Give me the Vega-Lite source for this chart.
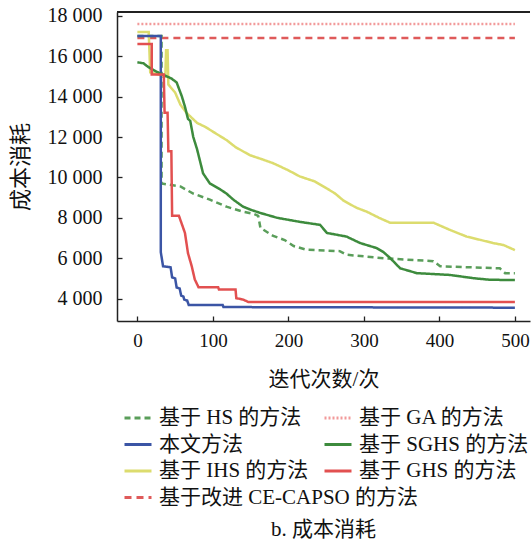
{
  "$schema": "https://vega.github.io/schema/vega-lite/v6.json",
  "autosize": "none",
  "width": 413,
  "height": 309,
  "padding": {"left": 117, "top": 12, "right": 1, "bottom": 223},
  "background": "white",
  "title": {"text": "b. 成本消耗", "orient": "bottom", "offset": 11, "font": "Liberation Serif, Times New Roman, Noto Sans CJK SC", "fontSize": 21, "fontWeight": "normal", "color": "#111"},
  "config": {
    "view": {"stroke": null},
    "axis": {"domainColor": "#222", "domainWidth": 1.5, "tickColor": "#222", "tickWidth": 1.3, "tickSize": -5, "grid": false,
      "labelFont": "Liberation Serif, Times New Roman, serif", "labelFontSize": 19, "labelColor": "#111",
      "titleFont": "Liberation Serif, Times New Roman, Noto Sans CJK SC", "titleFontSize": 21, "titleFontWeight": "normal", "titleColor": "#111"},
    "legend": {"symbolType": "stroke", "symbolSize": 729, "symbolStrokeWidth": 3, "labelFont": "Liberation Serif, Times New Roman, Noto Sans CJK SC", "labelFontSize": 21, "labelColor": "#111", "labelLimit": 400, "rowPadding": 1.5, "labelOffset": 6, "padding": 0, "orient": "none", "title": null}
  },
  "data": {"values": [
    {"s": "基于 GA 的方法", "i": 0, "x": 0, "y": 17600},
    {"s": "基于 GA 的方法", "i": 1, "x": 500, "y": 17600},
    {"s": "基于改进 CE-CAPSO 的方法", "i": 0, "x": 0, "y": 16900},
    {"s": "基于改进 CE-CAPSO 的方法", "i": 1, "x": 500, "y": 16900},
    {"s": "基于 HS 的方法", "i": 0, "x": 0, "y": 17000},
    {"s": "基于 HS 的方法", "i": 1, "x": 32, "y": 17000},
    {"s": "基于 HS 的方法", "i": 2, "x": 32, "y": 9700},
    {"s": "基于 HS 的方法", "i": 3, "x": 40, "y": 9650},
    {"s": "基于 HS 的方法", "i": 4, "x": 57, "y": 9550},
    {"s": "基于 HS 的方法", "i": 5, "x": 74, "y": 9200},
    {"s": "基于 HS 的方法", "i": 6, "x": 96, "y": 8900},
    {"s": "基于 HS 的方法", "i": 7, "x": 118, "y": 8550},
    {"s": "基于 HS 的方法", "i": 8, "x": 140, "y": 8300},
    {"s": "基于 HS 的方法", "i": 9, "x": 154, "y": 8200},
    {"s": "基于 HS 的方法", "i": 10, "x": 160, "y": 8100},
    {"s": "基于 HS 的方法", "i": 11, "x": 163, "y": 7500},
    {"s": "基于 HS 的方法", "i": 12, "x": 180, "y": 7100},
    {"s": "基于 HS 的方法", "i": 13, "x": 195, "y": 6900},
    {"s": "基于 HS 的方法", "i": 14, "x": 207, "y": 6600},
    {"s": "基于 HS 的方法", "i": 15, "x": 224, "y": 6420},
    {"s": "基于 HS 的方法", "i": 16, "x": 268, "y": 6350},
    {"s": "基于 HS 的方法", "i": 17, "x": 277, "y": 6170},
    {"s": "基于 HS 的方法", "i": 18, "x": 326, "y": 6000},
    {"s": "基于 HS 的方法", "i": 19, "x": 392, "y": 5850},
    {"s": "基于 HS 的方法", "i": 20, "x": 401, "y": 5600},
    {"s": "基于 HS 的方法", "i": 21, "x": 480, "y": 5500},
    {"s": "基于 HS 的方法", "i": 22, "x": 487, "y": 5260},
    {"s": "基于 HS 的方法", "i": 23, "x": 500, "y": 5260},
    {"s": "基于 IHS 的方法", "i": 0, "x": 0, "y": 17200},
    {"s": "基于 IHS 的方法", "i": 1, "x": 15, "y": 17200},
    {"s": "基于 IHS 的方法", "i": 2, "x": 17, "y": 15200},
    {"s": "基于 IHS 的方法", "i": 3, "x": 37, "y": 15000},
    {"s": "基于 IHS 的方法", "i": 4, "x": 38, "y": 16300},
    {"s": "基于 IHS 的方法", "i": 5, "x": 40, "y": 16300},
    {"s": "基于 IHS 的方法", "i": 6, "x": 41, "y": 14600},
    {"s": "基于 IHS 的方法", "i": 7, "x": 50, "y": 14200},
    {"s": "基于 IHS 的方法", "i": 8, "x": 57, "y": 13600},
    {"s": "基于 IHS 的方法", "i": 9, "x": 65, "y": 13200},
    {"s": "基于 IHS 的方法", "i": 10, "x": 79, "y": 12700},
    {"s": "基于 IHS 的方法", "i": 11, "x": 90, "y": 12500},
    {"s": "基于 IHS 的方法", "i": 12, "x": 105, "y": 12150},
    {"s": "基于 IHS 的方法", "i": 13, "x": 118, "y": 11850},
    {"s": "基于 IHS 的方法", "i": 14, "x": 130, "y": 11500},
    {"s": "基于 IHS 的方法", "i": 15, "x": 149, "y": 11100},
    {"s": "基于 IHS 的方法", "i": 16, "x": 165, "y": 10900},
    {"s": "基于 IHS 的方法", "i": 17, "x": 180, "y": 10700},
    {"s": "基于 IHS 的方法", "i": 18, "x": 200, "y": 10350},
    {"s": "基于 IHS 的方法", "i": 19, "x": 215, "y": 10050},
    {"s": "基于 IHS 的方法", "i": 20, "x": 235, "y": 9800},
    {"s": "基于 IHS 的方法", "i": 21, "x": 251, "y": 9450},
    {"s": "基于 IHS 的方法", "i": 22, "x": 262, "y": 9200},
    {"s": "基于 IHS 的方法", "i": 23, "x": 273, "y": 8850},
    {"s": "基于 IHS 的方法", "i": 24, "x": 290, "y": 8500},
    {"s": "基于 IHS 的方法", "i": 25, "x": 304, "y": 8300},
    {"s": "基于 IHS 的方法", "i": 26, "x": 320, "y": 8000},
    {"s": "基于 IHS 的方法", "i": 27, "x": 335, "y": 7750},
    {"s": "基于 IHS 的方法", "i": 28, "x": 360, "y": 7750},
    {"s": "基于 IHS 的方法", "i": 29, "x": 392, "y": 7760},
    {"s": "基于 IHS 的方法", "i": 30, "x": 414, "y": 7400},
    {"s": "基于 IHS 的方法", "i": 31, "x": 436, "y": 7070},
    {"s": "基于 IHS 的方法", "i": 32, "x": 455, "y": 6900},
    {"s": "基于 IHS 的方法", "i": 33, "x": 471, "y": 6750},
    {"s": "基于 IHS 的方法", "i": 34, "x": 485, "y": 6650},
    {"s": "基于 IHS 的方法", "i": 35, "x": 500, "y": 6400},
    {"s": "基于 SGHS 的方法", "i": 0, "x": 0, "y": 15700},
    {"s": "基于 SGHS 的方法", "i": 1, "x": 8, "y": 15650},
    {"s": "基于 SGHS 的方法", "i": 2, "x": 14, "y": 15480},
    {"s": "基于 SGHS 的方法", "i": 3, "x": 22, "y": 15300},
    {"s": "基于 SGHS 的方法", "i": 4, "x": 30, "y": 15150},
    {"s": "基于 SGHS 的方法", "i": 5, "x": 39, "y": 15000},
    {"s": "基于 SGHS 的方法", "i": 6, "x": 45, "y": 14900},
    {"s": "基于 SGHS 的方法", "i": 7, "x": 52, "y": 14700},
    {"s": "基于 SGHS 的方法", "i": 8, "x": 56, "y": 14300},
    {"s": "基于 SGHS 的方法", "i": 9, "x": 59, "y": 14000},
    {"s": "基于 SGHS 的方法", "i": 10, "x": 63, "y": 13500},
    {"s": "基于 SGHS 的方法", "i": 11, "x": 67, "y": 12900},
    {"s": "基于 SGHS 的方法", "i": 12, "x": 70, "y": 12800},
    {"s": "基于 SGHS 的方法", "i": 13, "x": 74, "y": 12000},
    {"s": "基于 SGHS 的方法", "i": 14, "x": 79, "y": 11400},
    {"s": "基于 SGHS 的方法", "i": 15, "x": 83, "y": 10800},
    {"s": "基于 SGHS 的方法", "i": 16, "x": 87, "y": 10200},
    {"s": "基于 SGHS 的方法", "i": 17, "x": 96, "y": 9700},
    {"s": "基于 SGHS 的方法", "i": 18, "x": 110, "y": 9400},
    {"s": "基于 SGHS 的方法", "i": 19, "x": 118, "y": 9200},
    {"s": "基于 SGHS 的方法", "i": 20, "x": 127, "y": 8900},
    {"s": "基于 SGHS 的方法", "i": 21, "x": 140, "y": 8550},
    {"s": "基于 SGHS 的方法", "i": 22, "x": 150, "y": 8400},
    {"s": "基于 SGHS 的方法", "i": 23, "x": 162, "y": 8250},
    {"s": "基于 SGHS 的方法", "i": 24, "x": 185, "y": 8000},
    {"s": "基于 SGHS 的方法", "i": 25, "x": 215, "y": 7800},
    {"s": "基于 SGHS 的方法", "i": 26, "x": 242, "y": 7650},
    {"s": "基于 SGHS 的方法", "i": 27, "x": 251, "y": 7250},
    {"s": "基于 SGHS 的方法", "i": 28, "x": 277, "y": 7070},
    {"s": "基于 SGHS 的方法", "i": 29, "x": 295, "y": 6750},
    {"s": "基于 SGHS 的方法", "i": 30, "x": 317, "y": 6500},
    {"s": "基于 SGHS 的方法", "i": 31, "x": 326, "y": 6300},
    {"s": "基于 SGHS 的方法", "i": 32, "x": 335, "y": 6000},
    {"s": "基于 SGHS 的方法", "i": 33, "x": 348, "y": 5500},
    {"s": "基于 SGHS 的方法", "i": 34, "x": 370, "y": 5260},
    {"s": "基于 SGHS 的方法", "i": 35, "x": 414, "y": 5170},
    {"s": "基于 SGHS 的方法", "i": 36, "x": 445, "y": 5010},
    {"s": "基于 SGHS 的方法", "i": 37, "x": 467, "y": 4930},
    {"s": "基于 SGHS 的方法", "i": 38, "x": 500, "y": 4920},
    {"s": "基于 GHS 的方法", "i": 0, "x": 0, "y": 16600},
    {"s": "基于 GHS 的方法", "i": 1, "x": 19, "y": 16600},
    {"s": "基于 GHS 的方法", "i": 2, "x": 19, "y": 15100},
    {"s": "基于 GHS 的方法", "i": 3, "x": 35, "y": 15100},
    {"s": "基于 GHS 的方法", "i": 4, "x": 36, "y": 13200},
    {"s": "基于 GHS 的方法", "i": 5, "x": 40, "y": 13200},
    {"s": "基于 GHS 的方法", "i": 6, "x": 41, "y": 11300},
    {"s": "基于 GHS 的方法", "i": 7, "x": 45, "y": 11300},
    {"s": "基于 GHS 的方法", "i": 8, "x": 46, "y": 8100},
    {"s": "基于 GHS 的方法", "i": 9, "x": 55, "y": 8100},
    {"s": "基于 GHS 的方法", "i": 10, "x": 63, "y": 7250},
    {"s": "基于 GHS 的方法", "i": 11, "x": 67, "y": 6250},
    {"s": "基于 GHS 的方法", "i": 12, "x": 72, "y": 5600},
    {"s": "基于 GHS 的方法", "i": 13, "x": 76, "y": 4950},
    {"s": "基于 GHS 的方法", "i": 14, "x": 81, "y": 4560},
    {"s": "基于 GHS 的方法", "i": 15, "x": 107, "y": 4560},
    {"s": "基于 GHS 的方法", "i": 16, "x": 108, "y": 4450},
    {"s": "基于 GHS 的方法", "i": 17, "x": 130, "y": 4450},
    {"s": "基于 GHS 的方法", "i": 18, "x": 131, "y": 4020},
    {"s": "基于 GHS 的方法", "i": 19, "x": 140, "y": 3950},
    {"s": "基于 GHS 的方法", "i": 20, "x": 147, "y": 3830},
    {"s": "基于 GHS 的方法", "i": 21, "x": 500, "y": 3830},
    {"s": "本文方法", "i": 0, "x": 0, "y": 17000},
    {"s": "本文方法", "i": 1, "x": 31, "y": 17000},
    {"s": "本文方法", "i": 2, "x": 31, "y": 6300},
    {"s": "本文方法", "i": 3, "x": 34, "y": 5600},
    {"s": "本文方法", "i": 4, "x": 44, "y": 5550},
    {"s": "本文方法", "i": 5, "x": 46, "y": 5050},
    {"s": "本文方法", "i": 6, "x": 50, "y": 5000},
    {"s": "本文方法", "i": 7, "x": 52, "y": 4550},
    {"s": "本文方法", "i": 8, "x": 56, "y": 4500},
    {"s": "本文方法", "i": 9, "x": 58, "y": 4150},
    {"s": "本文方法", "i": 10, "x": 61, "y": 4100},
    {"s": "本文方法", "i": 11, "x": 62, "y": 3950},
    {"s": "本文方法", "i": 12, "x": 66, "y": 3900},
    {"s": "本文方法", "i": 13, "x": 68, "y": 3680},
    {"s": "本文方法", "i": 14, "x": 113, "y": 3680},
    {"s": "本文方法", "i": 15, "x": 114, "y": 3580},
    {"s": "本文方法", "i": 16, "x": 500, "y": 3550}
  ]},
  "encoding": {
    "x": {"field": "x", "type": "quantitative", "scale": {"domain": [-27, 520], "nice": false, "zero": false},
      "axis": {"values": [0, 100, 200, 300, 400, 500], "title": "迭代次数/次", "labelPadding": 15, "titlePadding": 18}},
    "y": {"field": "y", "type": "quantitative", "scale": {"domain": [2890, 18190], "nice": false, "zero": false},
      "axis": {"values": [4000, 6000, 8000, 10000, 12000, 14000, 16000, 18000], "labelExpr": "replace(format(datum.value, ','), ',', ' ')", "title": "成本消耗", "titleFontSize": 22, "labelFontSize": 20, "labelPadding": 20, "titlePadding": 15}},
    "order": {"field": "i", "type": "quantitative"}
  },
  "layer": [
    {
      "mark": {"type": "rule", "color": "#222", "strokeWidth": 1.5},
      "encoding": {"y": {"datum": 18190, "type": "quantitative"}, "x": null, "order": null}
    },
    {
      "transform": [{"filter": "indexof(['基于 HS 的方法','本文方法','基于 IHS 的方法','基于改进 CE-CAPSO 的方法'], datum.s) >= 0"}],
      "mark": {"type": "line", "strokeWidth": 2.5},
      "encoding": {
        "color": {"field": "s", "type": "nominal", "scale": {"domain": ["基于 HS 的方法", "本文方法", "基于 IHS 的方法", "基于改进 CE-CAPSO 的方法"], "range": ["#5a9e5a", "#3b55a5", "#dcdc6e", "#df5a5a"]},
          "legend": {"legendX": 6, "legendY": 391}},
        "strokeDash": {"field": "s", "type": "nominal", "scale": {"domain": ["基于 HS 的方法", "本文方法", "基于 IHS 的方法", "基于改进 CE-CAPSO 的方法"], "range": [[6, 4], [1, 0], [1, 0], [7, 5]]},
          "legend": {"legendX": 6, "legendY": 391}}
      }
    },
    {
      "transform": [{"filter": "indexof(['基于 GA 的方法','基于 SGHS 的方法','基于 GHS 的方法'], datum.s) >= 0"}],
      "mark": {"type": "line", "strokeWidth": 2.5},
      "encoding": {
        "color": {"field": "s", "type": "nominal", "scale": {"domain": ["基于 GA 的方法", "基于 SGHS 的方法", "基于 GHS 的方法"], "range": ["#f29a9a", "#3d8b3d", "#e25050"]},
          "legend": {"legendX": 206, "legendY": 391}},
        "strokeDash": {"field": "s", "type": "nominal", "scale": {"domain": ["基于 GA 的方法", "基于 SGHS 的方法", "基于 GHS 的方法"], "range": [[2, 2], [1, 0], [1, 0]]},
          "legend": {"legendX": 206, "legendY": 391}}
      }
    }
  ],
  "resolve": {"scale": {"color": "independent", "strokeDash": "independent"}}
}
